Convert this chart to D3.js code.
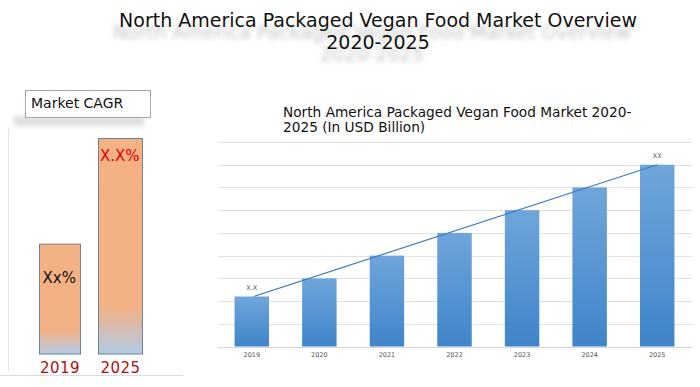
<!DOCTYPE html>
<html>
<head>
<meta charset="utf-8">
<script src="https://cdn.jsdelivr.net/npm/d3@7"></script>
<style>
  body { margin: 0; background: #fff; }
  svg { display: block; font-family: 'DejaVu Sans', sans-serif; }
</style>
</head>
<body>
<svg id="chart" width="700" height="387"></svg>
<script>
// market values (units of gridline)
const years = ['2019', '2020', '2021', '2022', '2023', '2024', '2025'];
const marketValues = [2.2, 3.0, 4.0, 5.0, 6.0, 7.0, 8.0];
const valueLabels = { '2019': 'X.X', '2025': 'XX' };

// CAGR panel
const cagrYears = ['2019', '2025'];
const cagrValues = [5.1, 10];
const cagrLabels = ['Xx%', 'X.X%'];

const svg = d3.select('#chart');
const defs = svg.append('defs');

defs.append('filter').attr('id', 'blur')
  .attr('x', '-10%').attr('y', '-50%').attr('width', '120%').attr('height', '200%')
  .append('feGaussianBlur').attr('stdDeviation', 2.6);

const blueGrad = defs.append('linearGradient').attr('id', 'blueGrad')
  .attr('x1', 0).attr('y1', 0).attr('x2', 0).attr('y2', 1);
blueGrad.append('stop').attr('offset', '0%').attr('stop-color', '#6fa5db');
blueGrad.append('stop').attr('offset', '100%').attr('stop-color', '#3f85c9');

const orangeGrad = defs.append('linearGradient').attr('id', 'orangeGrad')
  .attr('x1', 0).attr('y1', 0).attr('x2', 0).attr('y2', 1);
orangeGrad.append('stop').attr('offset', '0%').attr('stop-color', '#f4b183');
orangeGrad.append('stop').attr('offset', '78%').attr('stop-color', '#f3b185');
orangeGrad.append('stop').attr('offset', '100%').attr('stop-color', '#b3cbe6');

// ---- main title with blurred shadow
const titleLines = ['North America Packaged Vegan Food Market Overview', '2020-2025'];
const titleG = svg.append('g');
titleG.selectAll('.shadow')
  .data(titleLines)
  .join('text')
  .attr('class', 'shadow')
  .attr('aria-hidden', 'true')
  .attr('x', 372).attr('y', (d, i) => 39 + i * 22)
  .attr('text-anchor', 'middle')
  .attr('font-size', 19)
  .attr('fill', '#8a8a8a')
  .attr('opacity', 0.5)
  .attr('filter', 'url(#blur)')
  .text((d) => d);
titleG.selectAll('.title')
  .data(titleLines)
  .join('text')
  .attr('class', 'title')
  .attr('x', 378).attr('y', (d, i) => 27 + i * 22)
  .attr('text-anchor', 'middle')
  .attr('font-size', 19)
  .attr('fill', '#111')
  .text((d) => d);

// ---- left CAGR panel
const left = svg.append('g');
left.append('rect')
  .attr('x', 14).attr('y', 116).attr('width', 130).attr('height', 10)
  .attr('fill', '#a0a0a0').attr('opacity', 0.35).attr('filter', 'url(#blur)');
left.append('rect')
  .attr('x', 25.5).attr('y', 90.5).attr('width', 125).attr('height', 27)
  .attr('fill', '#fff').attr('stroke', '#a6a6a6');
left.append('text')
  .attr('x', 31).attr('y', 108)
  .attr('font-size', 14).attr('fill', '#111')
  .text('Market CAGR');

left.append('line')
  .attr('x1', 8.5).attr('x2', 8.5).attr('y1', 128).attr('y2', 371)
  .attr('stroke', '#e3e3e3');
left.append('line')
  .attr('x1', 0).attr('x2', 183).attr('y1', 375.5).attr('y2', 375.5)
  .attr('stroke', '#dcdcdc');

const xc = d3.scaleOrdinal().domain(cagrYears).range([39.5, 98.5]);
const wc = [41, 44];
const yc = d3.scaleLinear().domain([0, 10]).range([354, 138.5]);

left.selectAll('.cbar')
  .data(cagrValues)
  .join('rect')
  .attr('class', 'cbar')
  .attr('x', (d, i) => xc(cagrYears[i]))
  .attr('y', (d) => yc(d))
  .attr('width', (d, i) => wc[i])
  .attr('height', (d) => yc(0) - yc(d))
  .attr('fill', 'url(#orangeGrad)')
  .attr('stroke', '#6f8298');

left.selectAll('.clabel')
  .data(cagrLabels)
  .join('text')
  .attr('class', 'clabel')
  .attr('x', (d, i) => xc(cagrYears[i]) + (i === 0 ? 3 : 1.5))
  .attr('y', (d, i) => (i === 0 ? yc(cagrValues[i]) + 39 : yc(cagrValues[i]) + 22))
  .attr('font-size', 15)
  .attr('fill', (d, i) => (i === 0 ? '#111' : '#e00000'))
  .text((d) => d);

left.selectAll('.cyear')
  .data(cagrYears)
  .join('text')
  .attr('class', 'cyear')
  .attr('x', (d, i) => xc(d) + wc[i] / 2)
  .attr('y', 373)
  .attr('text-anchor', 'middle')
  .attr('font-size', 15)
  .attr('letter-spacing', 0.5)
  .attr('fill', '#b01010')
  .text((d) => d);

// ---- right bar chart
const right = svg.append('g');
right.append('text')
  .attr('x', 283).attr('y', 117)
  .attr('font-size', 13.7).attr('fill', '#111')
  .selectAll('tspan')
  .data(['North America Packaged Vegan Food Market 2020-', '2025 (In USD Billion)'])
  .join('tspan')
  .attr('x', 283)
  .attr('dy', (d, i) => (i === 0 ? 0 : 15))
  .text((d) => d);

const x = d3.scaleBand().domain(years).range([218, 691]).paddingInner(0.49).paddingOuter(0.245);
const y = d3.scaleLinear().domain([0, 9]).range([346.5, 142]);

right.selectAll('.grid')
  .data(d3.range(1, 10))
  .join('line')
  .attr('class', 'grid')
  .attr('x1', 218).attr('x2', 692)
  .attr('y1', (d) => Math.round(y(d)) + 0.5)
  .attr('y2', (d) => Math.round(y(d)) + 0.5)
  .attr('stroke', '#e2e2e2');

right.selectAll('.bar')
  .data(marketValues)
  .join('rect')
  .attr('class', 'bar')
  .attr('x', (d, i) => x(years[i]))
  .attr('y', (d) => y(d))
  .attr('width', x.bandwidth())
  .attr('height', (d) => y(0) - y(d))
  .attr('fill', 'url(#blueGrad)');

right.append('line')
  .attr('x1', 218).attr('x2', 692)
  .attr('y1', Math.round(y(0)) + 0.5).attr('y2', Math.round(y(0)) + 0.5)
  .attr('stroke', '#d6d6d6');

// trend line from first to last value
const first = 0, last = marketValues.length - 1;
right.append('line')
  .attr('x1', x(years[first]) + x.bandwidth() / 2 + 2)
  .attr('y1', y(marketValues[first]))
  .attr('x2', x(years[last]) + x.bandwidth() / 2)
  .attr('y2', y(marketValues[last]))
  .attr('stroke', '#3f7fc0').attr('stroke-width', 1.2);

right.selectAll('.vlabel')
  .data(years.filter((d) => valueLabels[d]))
  .join('text')
  .attr('class', 'vlabel')
  .attr('x', (d) => x(d) + x.bandwidth() / 2)
  .attr('y', (d) => y(marketValues[years.indexOf(d)]) - 7)
  .attr('text-anchor', 'middle')
  .attr('font-size', 6.5).attr('fill', '#555')
  .text((d) => valueLabels[d]);

right.append('g')
  .attr('transform', `translate(0,${y(0)})`)
  .call(d3.axisBottom(x).tickSize(0).tickPadding(6))
  .call((g) => g.select('.domain').remove())
  .selectAll('text')
  .attr('font-family', "'DejaVu Sans', sans-serif")
  .attr('font-size', 6.5)
  .attr('fill', '#555');
</script>
</body>
</html>
